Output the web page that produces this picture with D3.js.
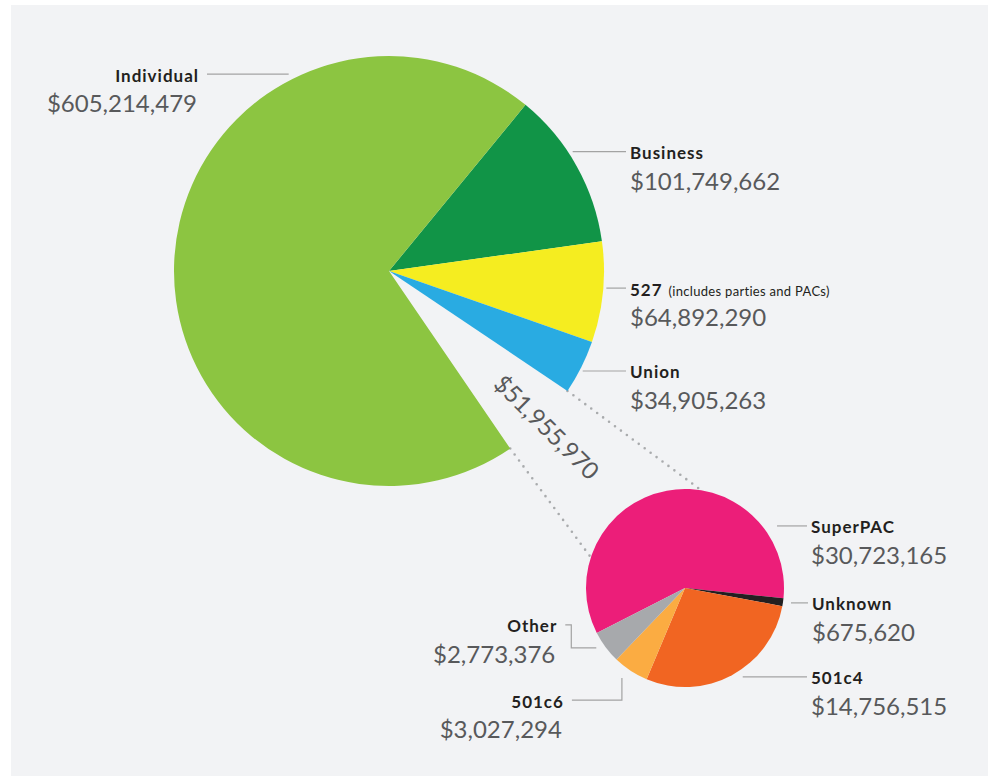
<!DOCTYPE html>
<html>
<head>
<meta charset="utf-8">
<script src="https://cdn.jsdelivr.net/npm/d3@7"></script>
<style>
  body { margin: 0; background: #fff; }
  svg { display: block; font-family: Lato, "Noto Sans", sans-serif; }
  .name { font-size: 17px; font-weight: 700; fill: #231f20; letter-spacing: 1px; }
  .note { font-size: 13px; font-weight: 400; letter-spacing: 0.3px; }
  .value { font-size: 24px; font-weight: 400; fill: #58595b; }
  .leader { fill: none; stroke: #a3a3a3; stroke-width: 1.2; }
</style>
</head>
<body>
<div id="chart"></div>
<script>
// Main pie: contributions by source (the white gap is the outside-group money)
let bigNames = ["Business", "527", "Union", "Outside groups", "Individual"];
let bigNotes = ["", "(includes parties and PACs)", "", "", ""];
let bigValues = [101749662, 64892290, 34905263, null, 605214479];
let bigColors = ["#119447", "#f5ed20", "#29abe2", "none", "#8cc541"];

// Breakout pie: the outside-group slice
let smallNames = ["SuperPAC", "Unknown", "501c4", "501c6", "Other"];
let smallValues = [30723165, 675620, 14756515, 3027294, 2773376];
let smallColors = ["#ec1e79", "#231f20", "#f16522", "#fbac42", "#a7a9ac"];

// the gap slice is the sum of the breakout
bigValues[3] = d3.sum(smallValues);

let width = 994, height = 776;
let fmt = d3.format("$,");
let deg = Math.PI / 180;

let svg = d3.select("#chart").append("svg")
    .attr("width", width)
    .attr("height", height);

// gray panel
svg.append("rect")
    .attr("x", 11).attr("y", 5)
    .attr("width", 977).attr("height", height - 5)
    .attr("fill", "#f2f3f5");

let big = {cx: 389, cy: 271, r: 215};
let small = {cx: 685, cy: 588, r: 99};

let bigPie = d3.pie().sort(null).startAngle(39.4 * deg).endAngle((39.4 + 360) * deg);
let smallPie = d3.pie().sort(null).startAngle(-117 * deg).endAngle((360 - 117) * deg);

let bigArcs = bigPie(bigValues);
let smallArcs = smallPie(smallValues);

// point on a circle at d3 angle a (radians, 0 = 12 o'clock)
function polar(c, r, a) {
    return [c.cx + r * Math.sin(a), c.cy - r * Math.cos(a)];
}

// Dotted connectors: from the gap's corners down to the rim of the breakout pie
let gap = bigArcs[3];
let connectors = [
    [polar(big, big.r, gap.startAngle), polar(small, small.r, 9.5 * deg)],
    [polar(big, big.r, gap.endAngle), polar(small, small.r, 288 * deg)]
];

svg.append("g").selectAll("line")
    .data(connectors)
    .enter().append("line")
    .attr("x1", d => d[0][0]).attr("y1", d => d[0][1])
    .attr("x2", d => d[1][0]).attr("y2", d => d[1][1])
    .attr("stroke", "#a9abad")
    .attr("stroke-width", 2.6)
    .attr("stroke-linecap", "round")
    .attr("stroke-dasharray", "0,7.4");

// Draw the pies
let arcBig = d3.arc().innerRadius(0).outerRadius(big.r);
let arcSmall = d3.arc().innerRadius(0).outerRadius(small.r);

svg.append("g")
    .attr("transform", "translate(" + big.cx + "," + big.cy + ")")
    .selectAll("path")
    .data(bigArcs)
    .enter().append("path")
    .attr("d", arcBig)
    .attr("fill", (d, i) => bigColors[i]);

svg.append("g")
    .attr("transform", "translate(" + small.cx + "," + small.cy + ")")
    .selectAll("path")
    .data(smallArcs)
    .enter().append("path")
    .attr("d", arcSmall)
    .attr("fill", (d, i) => smallColors[i]);

// Rotated total for the gap slice
let gapMid = (gap.startAngle + gap.endAngle) / 2;
let gapPos = polar(big, big.r + 7, gapMid);
svg.append("text")
    .attr("class", "value")
    .attr("transform", "translate(" + gapPos[0] + "," + gapPos[1] + ") rotate(" + (gapMid / deg - 90) + ")")
    .attr("text-anchor", "middle")
    .attr("dy", "0.35em")
    .text(fmt(bigValues[3]));

// Label layout: leader angle (deg), radial offset, where the line ends, which side the text sits,
// and optional elbow points for the crowded lower-left of the breakout pie
let bigLayout = [
    {angle: 57,  off: 4, lineX: 626, side: "right"},
    {angle: 94.5, off: 3, lineX: 626, side: "right"},
    {angle: 117.3, off: 3, lineX: 626, side: "right"},
    null,
    {angle: 333, off: 6, lineX: 207, side: "left"}
];
let smallLayout = [
    {angle: 56,  off: 12, lineX: 807, side: "right"},
    {angle: 98,  off: 8,  lineX: 808, side: "right"},
    {angle: 147, off: 7,  lineX: 807, side: "right"},
    {angle: 215, off: 11, side: "left", elbow: [[0, 22], [-50, 22]]},
    {angle: 236, off: 8,  side: "left", elbow: [[-25, 0], [-25, -23], [-31, -23]]}
];

function drawLabels(arcs, c, layout, names, notes, values) {
    arcs.forEach(function(a, i) {
        let L = layout[i];
        if (!L) return;
        let p = polar(c, c.r + L.off, L.angle * deg);
        let pts = [p];
        if (L.elbow) {
            L.elbow.forEach(e => pts.push([p[0] + e[0], p[1] + e[1]]));
        } else {
            pts.push([L.lineX, p[1]]);
        }
        svg.append("path")
            .attr("class", "leader")
            .attr("d", d3.line()(pts));

        let end = pts[pts.length - 1];
        let tx = L.side === "right" ? end[0] + 4 : end[0] - 8;
        let anchor = L.side === "right" ? "start" : "end";

        let name = svg.append("text")
            .attr("class", "name")
            .attr("x", tx)
            .attr("y", end[1] + 7.5)
            .attr("text-anchor", anchor)
            .text(names[i]);
        if (notes && notes[i]) {
            name.append("tspan").attr("class", "note").attr("dx", 6).text(notes[i]);
        }
        svg.append("text")
            .attr("class", "value")
            .attr("x", L.side === "right" ? tx : tx - 2)
            .attr("y", end[1] + 38)
            .attr("text-anchor", anchor)
            .text(fmt(values[i]));
    });
}

drawLabels(bigArcs, big, bigLayout, bigNames, bigNotes, bigValues);
drawLabels(smallArcs, small, smallLayout, smallNames, null, smallValues);
</script>
</body>
</html>
